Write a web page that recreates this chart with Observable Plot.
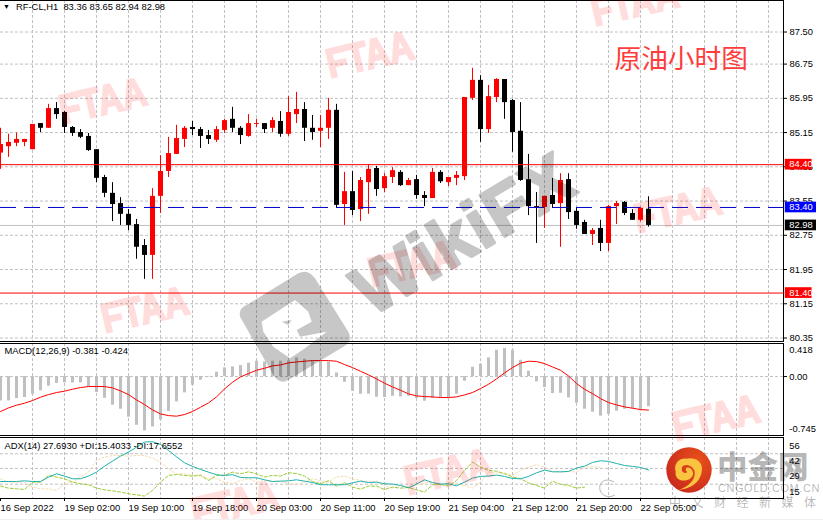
<!DOCTYPE html>
<html><head><meta charset="utf-8">
<script src="https://cdn.jsdelivr.net/npm/d3@7"></script>
<script src="https://cdn.jsdelivr.net/npm/@observablehq/plot@0.6"></script>
<style>
html,body{margin:0;padding:0;background:#fff;overflow:hidden}
#wrap{position:relative;width:823px;height:520px;overflow:hidden}
#wrap>div,#wrap>svg{display:block}
#over{position:absolute;left:0;top:0;pointer-events:none}
</style></head><body><div id="wrap"></div>
<script>
const headerMain = "RF-CL,H1  83.36 83.65 82.94 82.98";
const headerMacd = "MACD(12,26,9) -0.381 -0.424";
const headerAdx = "ADX(14) 27.6930 +DI:15.4033 -DI:17.6552";
const chartNote = "原油小时图";
const opens = [84.67,84.82,84.90,84.92,84.75,85.36,85.25,85.71,85.62,85.27,85.15,85.06,84.75,84.10,83.73,83.49,83.24,83.00,82.51,82.28,83.66,84.24,84.64,84.99,85.27,85.22,85.08,84.97,85.20,85.46,85.25,85.06,85.34,85.36,85.25,85.41,85.11,85.57,85.69,85.25,85.18,85.25,85.67,83.47,83.77,83.35,83.98,84.31,83.84,84.10,84.22,83.91,84.05,83.68,83.61,84.22,83.98,84.08,84.12,85.95,86.37,85.22,85.97,86.39,85.90,85.18,84.05,83.42,83.40,83.68,83.49,84.05,83.31,83.05,82.77,82.91,82.56,83.42,83.52,83.26,83.10,83.36];
const closes = [84.87,84.92,84.99,84.99,85.34,85.25,85.71,85.57,85.27,85.13,85.04,84.73,84.08,83.73,83.47,83.24,82.98,82.47,82.28,83.66,84.24,84.66,85.01,85.25,85.22,85.06,84.99,85.22,85.43,85.25,85.08,85.36,85.36,85.22,85.43,85.11,85.62,85.69,85.25,85.15,85.25,85.67,83.45,83.77,83.33,84.03,84.29,83.82,84.12,84.26,83.91,84.03,83.68,83.61,84.22,84.00,84.10,84.15,85.97,86.37,85.22,85.99,86.39,85.85,85.15,84.03,83.42,83.40,83.66,83.47,84.03,83.28,82.98,82.77,82.86,82.56,83.42,83.49,83.26,83.10,83.38,82.98];
const highs = [85.25,85.11,85.14,84.99,85.34,85.36,85.81,85.85,85.64,85.29,85.22,85.13,84.75,84.15,83.98,83.63,83.35,83.12,82.65,83.84,84.61,85.04,85.32,85.29,85.41,85.27,85.20,85.29,85.46,85.74,85.29,85.57,85.46,85.36,85.50,85.64,85.99,86.09,85.85,85.55,85.55,85.95,85.81,84.22,84.24,84.10,84.40,84.36,84.19,84.33,84.26,84.08,84.15,83.77,84.31,84.26,84.10,84.24,85.97,86.65,86.48,86.25,86.41,86.39,85.92,85.85,84.64,83.75,83.66,84.08,84.19,84.19,83.40,83.10,82.91,83.10,83.45,83.54,83.54,83.35,83.40,83.65];
const lows = [84.29,84.57,84.82,84.82,84.75,85.15,85.25,85.46,85.13,85.06,85.01,84.71,83.98,83.63,83.07,82.98,82.86,82.19,81.72,81.72,83.26,84.10,84.64,84.80,85.08,84.78,84.87,84.92,85.13,85.15,84.87,85.04,85.27,85.13,85.15,85.04,85.06,85.36,84.94,84.97,84.80,84.99,83.39,82.98,83.21,83.07,83.24,83.66,83.75,83.96,83.89,83.91,83.59,83.42,83.61,83.96,83.89,83.91,84.03,85.90,84.92,85.13,85.85,85.46,84.69,84.01,83.21,82.56,82.91,83.38,82.47,83.12,82.89,82.77,82.51,82.37,82.37,83.00,83.21,83.10,83.07,82.94];
const macd = [-0.308,-0.308,-0.278,-0.265,-0.223,-0.181,-0.122,-0.088,-0.080,-0.080,-0.080,-0.131,-0.202,-0.274,-0.362,-0.413,-0.514,-0.615,-0.687,-0.636,-0.548,-0.442,-0.320,-0.206,-0.110,-0.046,-0.005,0.055,0.110,0.122,0.139,0.169,0.194,0.185,0.194,0.194,0.198,0.236,0.219,0.202,0.198,0.185,0.046,-0.072,-0.185,-0.223,-0.223,-0.261,-0.265,-0.249,-0.257,-0.249,-0.278,-0.312,-0.278,-0.278,-0.265,-0.223,-0.059,0.118,0.156,0.236,0.333,0.354,0.333,0.206,0.067,-0.067,-0.139,-0.215,-0.211,-0.270,-0.337,-0.413,-0.451,-0.501,-0.480,-0.438,-0.413,-0.409,-0.413,-0.381];
const signal = [-0.442,-0.396,-0.362,-0.337,-0.303,-0.261,-0.228,-0.202,-0.185,-0.160,-0.139,-0.126,-0.126,-0.126,-0.143,-0.181,-0.228,-0.295,-0.354,-0.421,-0.472,-0.493,-0.501,-0.480,-0.442,-0.388,-0.333,-0.257,-0.156,-0.072,-0.004,0.038,0.080,0.105,0.135,0.147,0.173,0.185,0.194,0.202,0.202,0.202,0.194,0.152,0.114,0.067,0.021,-0.029,-0.084,-0.131,-0.173,-0.219,-0.244,-0.253,-0.257,-0.265,-0.265,-0.257,-0.232,-0.202,-0.152,-0.097,-0.029,0.046,0.114,0.169,0.194,0.190,0.164,0.122,0.080,0.008,-0.088,-0.160,-0.215,-0.278,-0.329,-0.358,-0.383,-0.400,-0.417,-0.424];
const adx = [17.4,17.4,17.4,18.0,17.4,17.4,21.3,24.2,22.2,19.8,19.8,22.2,25.7,31.0,35.5,39.9,43.5,47.9,52.4,52.7,50.3,45.0,39.3,34.0,30.8,28.1,25.7,23.4,22.8,23.4,21.0,20.7,20.7,18.9,17.4,17.7,18.0,18.9,17.7,16.5,14.5,14.5,14.5,14.5,16.2,17.7,16.5,16.8,15.4,15.1,13.9,11.8,15.1,18.9,16.5,15.1,15.4,13.6,16.8,20.4,21.9,22.2,23.1,21.9,20.1,19.8,21.9,25.1,27.5,26.0,26.0,26.3,29.3,31.0,34.3,35.8,35.2,33.4,31.6,30.8,29.9,27.7];
const plusDI = [13.3,11.5,10.9,10.3,16.8,16.8,22.8,21.3,19.8,16.8,15.4,14.5,11.5,10.0,9.1,8.0,6.5,5.6,4.4,9.4,16.8,22.8,23.6,22.8,22.2,22.8,18.3,22.8,22.8,25.7,24.2,26.0,24.2,21.3,22.8,22.2,25.1,24.5,22.2,17.4,15.4,18.0,13.3,16.2,12.4,10.6,13.3,13.3,10.3,12.4,11.5,12.1,10.0,8.0,14.5,14.8,13.3,18.3,27.2,34.6,30.2,27.2,26.6,24.2,21.6,19.8,16.2,13.9,11.5,17.7,14.8,13.9,11.5,12.4];
const minusDI = [19.8,16.8,16.8,16.8,12.4,10.9,10.9,9.4,15.4,16.8,21.3,25.7,36.1,39.0,40.5,40.5,39.9,40.5,40.5,38.2,34.6,28.7,24.2,24.2,22.8,23.4,19.8,19.8,16.8,15.4,18.3,19.8,16.8,18.3,17.4,17.7,15.4,14.8,16.8,19.8,18.3,16.8,21.3,22.2,19.8,18.3,16.8,17.7,13.9,11.5,13.9,12.4,13.9,16.2,16.8,13.9,16.8,15.4,13.9,11.5,16.8,25.7,25.1,25.1,22.8,27.2,30.2,32.2,30.2,26.3,25.7,26.3,25.7,30.2,30.8,29.6];
const priceTicks = [87.50,86.75,85.95,85.15,84.35,83.55,82.75,81.95,81.15,80.35];
const macdTop = 0.418, macdZero = 0, macdBottom = -0.745;
const adxGrid = [42,29,15];
const adxLabels = [56,42,29,15];
const timeTickBars = [0,8,16,24,32,40,48,56,64,72,80];
const timeTickLabels = ["16 Sep 2022","19 Sep 02:00","19 Sep 10:00","19 Sep 18:00","20 Sep 03:00","20 Sep 11:00","20 Sep 19:00","21 Sep 04:00","21 Sep 12:00","21 Sep 20:00","22 Sep 05:00"];
const gridBars = d3.range(4,97,4);
const levelRed = [84.40,81.40];
const levelBlue = 83.40;
const levelLast = 82.98;

const font = '"Liberation Sans",sans-serif';
const fs = 9.4;
const GRID = "#c0c0c0", W = 823;
const xScale = {type:"linear",domain:[0,96],range:[0,768]};
const idx = d3.range(opens.length);
const rows = idx.map(i=>({i,o:opens[i],c:closes[i],h:highs[i],l:lows[i],col:closes[i]>=opens[i]?"#ff0000":"#000000"}));
const vGrid = Plot.ruleX(gridBars,{stroke:GRID,strokeDasharray:"3,2"});
const frames = [Plot.frame({anchor:"top",stroke:"#000"}),Plot.frame({anchor:"bottom",stroke:"#000"}),Plot.frame({anchor:"right",stroke:"#000"})];
const base = {width:W,marginLeft:0,marginRight:40,style:{background:"transparent",fontFamily:font,fontSize:fs+"px",color:"#000",overflow:"visible"}};

const boxes = [
 {v:84.40,fill:"#ff0000",w:3.35,t:"84.40"},
 {v:81.40,fill:"#ff0000",w:3.35,t:"81.40"},
 {v:83.40,fill:"#0000ff",w:3.9,t:"83.40"},
 {v:82.98,fill:"#000000",w:3.9,t:"82.98"}];

const main = Plot.plot({...base,height:342,marginTop:0,marginBottom:1,
  x:{...xScale,axis:null},
  y:{type:"linear",domain:[87.5,80.35],range:[31.5,337.5],axis:null},
  marks:[
    Plot.ruleY(priceTicks,{stroke:GRID,strokeDasharray:"3,2"}),
    vGrid,
    Plot.ruleY([levelLast],{stroke:"#c0c0c0"}),
    Plot.ruleX(rows,{x:"i",y1:"l",y2:"h",stroke:"col",strokeWidth:1}),
    Plot.ruleX(rows,{x:"i",y1:"o",y2:"c",stroke:"col",strokeWidth:5}),
    Plot.ruleY([levelBlue],{stroke:"#0000cc",strokeDasharray:"16,8"}),
    Plot.ruleY(levelRed,{stroke:"#ff0000"}),
    ...frames,
    Plot.axisY(priceTicks,{anchor:"right",tickSize:3,tickPadding:3,tickFormat:d=>d.toFixed(2),fontSize:fs,fontFamily:font,label:null,stroke:"#000"}),
    Plot.rect(boxes,{x1:()=>98.1,x2:d=>98.1+d.w,y1:d=>d.v+0.125,y2:d=>d.v-0.125,fill:"fill"}),
    Plot.text(boxes,{x:()=>98.6,y:"v",text:"t",fill:"#fff",textAnchor:"start",fontSize:fs,dy:-0.5}),
    Plot.text([headerMain],{frameAnchor:"top-left",dx:15.5,dy:3,textAnchor:"start",fontSize:fs,fill:"#000"}),
    Plot.text(["▼"],{frameAnchor:"top-left",dx:2.5,dy:4,textAnchor:"start",fontSize:7,fill:"#000"}),
    Plot.text([chartNote],{frameAnchor:"top-left",dx:614,dy:49,textAnchor:"start",fontSize:26.7,fontFamily:'"Noto Sans CJK SC"',fill:"#ff3c3c"})
  ]});

const macdAxisText = (v,label,dy)=>Plot.text([label],{x:()=>98.6,y:()=>v,textAnchor:"start",fontSize:fs,fill:"#000",dy});
const macdPanel = Plot.plot({...base,height:95,marginTop:1,marginBottom:2,
  x:{...xScale,axis:null},
  y:{type:"linear",domain:[macdTop,macdBottom],range:[1,93],axis:null},
  marks:[
    Plot.ruleY([macdZero],{stroke:GRID,strokeDasharray:"3,2"}),
    vGrid,
    Plot.ruleX(idx,{x:i=>i,y1:()=>0,y2:i=>macd[i],stroke:"#c0c0c0",strokeWidth:3}),
    Plot.line(idx,{x:i=>i,y:i=>signal[i],stroke:"#ff0000",strokeWidth:1}),
    ...frames,
    Plot.axisY([macdZero],{anchor:"right",tickSize:3,tickFormat:()=>"",label:null}),
    macdAxisText(macdTop,"0.418",6.5),
    macdAxisText(macdZero,"0.00",0),
    macdAxisText(macdBottom,"-0.745",-6.5),
    Plot.text([headerMacd],{frameAnchor:"top-left",dx:4,dy:4,textAnchor:"start",fontSize:fs,fill:"#000"})
  ]});

const adxPanel = Plot.plot({...base,height:83,marginTop:0,marginBottom:22,
  x:{...xScale,axis:null},
  y:{type:"linear",domain:[56,2.3],range:[0.5,61],axis:null},
  marks:[
    Plot.ruleY(adxGrid,{stroke:GRID,strokeDasharray:"3,2"}),
    vGrid,
    Plot.line(minusDI,{x:(d,i)=>i,y:d=>d,stroke:"#f5deb3",strokeWidth:1,strokeDasharray:"2,2"}),
    Plot.line(plusDI,{x:(d,i)=>i,y:d=>d,stroke:"#9acd32",strokeWidth:1,strokeDasharray:"3,2"}),
    Plot.line(adx,{x:(d,i)=>i,y:d=>d,stroke:"#20b2aa",strokeWidth:1}),
    ...frames,
    Plot.axisX(timeTickBars,{anchor:"bottom",tickSize:3,tickPadding:3,textAnchor:"start",tickFormat:d=>timeTickLabels[timeTickBars.indexOf(d)],fontSize:fs,fontFamily:font,label:null,dx:0}),
    Plot.text(adxLabels,{x:()=>98.6,y:d=>d,text:d=>String(d),textAnchor:"start",fontSize:fs,fill:"#000",dy:7.5}),
    Plot.text([headerAdx],{frameAnchor:"top-left",dx:4,dy:5,textAnchor:"start",fontSize:fs,fill:"#000"})
  ]});

const wrap = document.getElementById("wrap");
wrap.append(main,macdPanel,adxPanel);

// decorative watermarks printed over the screenshot
const NS = "http://www.w3.org/2000/svg";
const ov = d3.select(wrap).append("svg").attr("id","over").attr("width",823).attr("height",520).attr("xmlns",NS);
const ftaa = [[595,26],[330,78],[63,124],[105,333],[372,287],[638,233],[676,441],[408,495],[195,527]];
ftaa.forEach(([x,y])=>{
  ov.append("text").text("FTAA").attr("transform",`translate(${x},${y}) rotate(-13) scale(0.83,1)`)
    .attr("font-family",font).attr("font-weight",700).attr("font-size",41)
    .attr("fill","#ff0000").attr("stroke","#ff0000").attr("stroke-width",2.2).attr("opacity",0.13);
});
ov.append("text").text("WikiFX").attr("transform","translate(371,317) rotate(-31)")
  .attr("font-family",font).attr("font-weight",700).attr("font-size",70).attr("letter-spacing",2)
  .attr("fill","#000").attr("stroke","#000").attr("stroke-width",3).attr("stroke-linejoin","round").attr("opacity",0.22);
ov.append("path").attr("transform","translate(230,140) scale(0.3333)")
  .attr("fill-rule","evenodd").attr("fill","#000").attr("fill-opacity",0.22)
  .attr("d","M30 530Q25 505 50 495L205 400Q235 385 255 415L355 575Q370 605 340 620L175 720Q150 735 130 705ZM95 545L195 480L235 515L245 545L200 570L210 590L290 575L225 625L180 655L130 620L100 575ZM155 545L185 540L175 555Z");
const defs = ov.append("defs");
const rg = defs.append("radialGradient").attr("id","rg").attr("cx","70%").attr("cy","30%").attr("r","80%");
rg.append("stop").attr("offset","0").attr("stop-color","#e8501a");
rg.append("stop").attr("offset","1").attr("stop-color","#c92a1c");
ov.append("circle").attr("cx",689).attr("cy",470).attr("r",22.7).attr("fill","url(#rg)");
ov.append("path").attr("transform","translate(590,430) scale(0.3333)").attr("fill","#f9c440")
  .attr("d","M266 180C310 176 336 150 336 115C336 92 312 80 288 86C266 84 250 104 257 125C254 146 272 156 292 150C310 145 316 125 300 114C290 108 282 118 292 126C285 134 272 126 276 112C282 100 308 104 314 124C318 150 296 170 266 180Z");
ov.append("text").text("中金网").attr("x",717).attr("y",478).attr("font-family",'"Noto Sans CJK SC"').attr("font-weight",900).attr("font-size",30.5).attr("fill","#000").attr("fill-opacity",0.3);
ov.append("text").text("CNGOLD.COM.CN").attr("x",718).attr("y",492).attr("font-family",font).attr("font-size",11).attr("letter-spacing","0.55").attr("fill","#000").attr("fill-opacity",0.3);
ov.append("text").text("中 文 财 经 新 媒 体").attr("x",669).attr("y",507).attr("font-family",'"Noto Sans CJK SC"').attr("font-size",12).attr("letter-spacing","3.9").attr("fill","#000").attr("fill-opacity",0.3);
ov.append("path").attr("d","M614 482C606 477 598 482 600 490C602 497 610 498 615 495").attr("fill","none").attr("stroke","#999").attr("stroke-width",0.7);
ov.append("rect").attr("x",0).attr("y",519).attr("width",823).attr("height",1).attr("fill","#f0f0f0");
</script></body></html>
